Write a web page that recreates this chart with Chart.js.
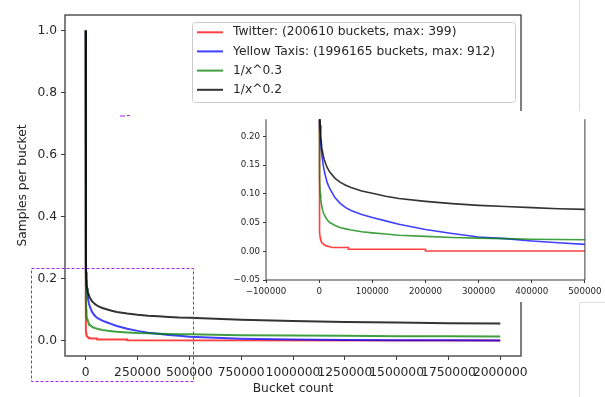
<!DOCTYPE html>
<html>
<head>
<meta charset="utf-8">
<script src="https://cdn.jsdelivr.net/npm/chart.js@4.4.0/dist/chart.umd.min.js"></script>
<style>
  html, body { margin: 0; padding: 0; background: #fff; }
  #wrap { position: relative; width: 605px; height: 397px; overflow: hidden; }
  #mainChart { position: absolute; left: 0; top: 0; }
  #insetChart { position: absolute; left: 205px; top: 111px; background: #fff; }
</style>
</head>
<body>
<div id="wrap">
  <canvas id="mainChart" width="605" height="397"></canvas>
  <canvas id="insetChart" width="400" height="191"></canvas>
</div>
<script>
// series names
const seriesNames = [
    'Twitter: (200610 buckets, max: 399)',
    'Yellow Taxis: (1996165 buckets, max: 912)',
    '1/x^0.3',
    '1/x^0.2'
];
const seriesColors = ['rgba(255,0,0,0.75)', 'rgba(0,0,255,0.75)', 'rgba(0,128,0,0.75)', 'rgba(0,0,0,0.8)'];

// bucket counts (x) shared by the smooth curves
const bucketX = [0, 500, 1000, 2000, 3000, 5000, 7500, 10000, 15000, 20000, 30000, 40000, 50000, 60000,
    80000, 100000, 125000, 150000, 200000, 250000, 300000, 350000, 400000, 450000, 500000,
    750000, 1000000, 1250000, 1500000, 1750000, 2000000];

// samples per bucket
const taxiY = [1.0, 0.23, 0.215, 0.195, 0.185, 0.168, 0.151, 0.138, 0.12, 0.109, 0.093, 0.083, 0.076, 0.071,
    0.064, 0.059, 0.053, 0.047, 0.038, 0.031, 0.025, 0.022, 0.018, 0.015, 0.012,
    0.006, 0.003, 0.002, 0.001, 0.0005, 0.0];
const pow03Y = [1.0, 0.16, 0.125, 0.10, 0.09, 0.078, 0.068, 0.063, 0.055, 0.050, 0.045, 0.041, 0.039, 0.037,
    0.034, 0.032, 0.030, 0.028, 0.026, 0.024, 0.023, 0.022, 0.021, 0.0205, 0.020,
    0.017, 0.016, 0.015, 0.014, 0.0135, 0.013];
const pow02Y = [1.0, 0.29, 0.25, 0.22, 0.20, 0.18, 0.168, 0.158, 0.146, 0.138, 0.127, 0.12, 0.115, 0.111,
    0.105, 0.101, 0.096, 0.092, 0.087, 0.083, 0.080, 0.078, 0.076, 0.074, 0.073,
    0.067, 0.063, 0.060, 0.058, 0.056, 0.055];

// twitter is stepped, so it has its own x values
const twitterX = [0, 500, 1000, 2000, 3000, 5000, 7500, 10000, 15000, 20000, 25000, 55000, 55000, 200000, 200000, 2000000];
const twitterY = [1.0, 0.05, 0.033, 0.024, 0.019, 0.015, 0.013, 0.011, 0.009, 0.008, 0.0065, 0.0065, 0.0035, 0.0035, 0.0005, 0.0];

// tick labels
const mainXTicks = [0, 250000, 500000, 750000, 1000000, 1250000, 1500000, 1750000, 2000000];
const mainYTicks = [0.0, 0.2, 0.4, 0.6, 0.8, 1.0];
const insetXTicks = [-100000, 0, 100000, 200000, 300000, 400000, 500000];
const insetYTicks = [-0.05, 0.0, 0.05, 0.10, 0.15, 0.20];

const FONT = 'DejaVu Sans';
const TEXT = '#262626';
const AXIS = '#3a3a3a';

function pts(xs, ys) {
    return xs.map((x, i) => ({ x: x, y: ys[i] }));
}

function buildDatasets(width) {
    const all = [pts(twitterX, twitterY), pts(bucketX, taxiY), pts(bucketX, pow03Y), pts(bucketX, pow02Y)];
    // black drawn on top, like the original plot order
    return all.map((d, i) => ({
        label: seriesNames[i],
        data: d,
        borderColor: seriesColors[i],
        backgroundColor: seriesColors[i],
        borderWidth: width,
        pointRadius: 0,
        showLine: true,
        tension: 0,
        order: 3 - i
    }));
}

function minus(s) {
    return s.replace('-', '\u2212');
}

// frame, legend and the dashed zoom box
const mainDecor = {
    id: 'mainDecor',
    afterDraw(chart) {
        const ctx = chart.ctx;
        const a = chart.chartArea;
        ctx.save();
        ctx.strokeStyle = AXIS;
        ctx.lineWidth = 1.3;
        ctx.strokeRect(a.left, a.top, a.right - a.left, a.bottom - a.top);

        // legend
        ctx.fillStyle = 'rgba(255,255,255,0.85)';
        ctx.strokeStyle = '#cccccc';
        ctx.lineWidth = 1;
        ctx.beginPath();
        ctx.roundRect(192.5, 22.5, 323, 80, 3);
        ctx.fill();
        ctx.stroke();
        const rows = [32.3, 51.4, 70.6, 89.8];
        ctx.font = '12.3px "' + FONT + '"';
        ctx.textBaseline = 'middle';
        rows.forEach((y, i) => {
            ctx.strokeStyle = seriesColors[i];
            ctx.lineWidth = 2;
            ctx.beginPath();
            ctx.moveTo(197, y);
            ctx.lineTo(223, y);
            ctx.stroke();
            ctx.fillStyle = TEXT;
            ctx.fillText(seriesNames[i], 233, y);
        });

        // dashed box marking the zoomed region
        ctx.strokeStyle = '#a020f0';
        ctx.lineWidth = 1;
        ctx.setLineDash([3, 2]);
        ctx.strokeRect(31.5, 268.5, 162, 113);
        ctx.setLineDash([]);
        ctx.beginPath();
        ctx.moveTo(120, 116);
        ctx.lineTo(125, 116);
        ctx.moveTo(127, 115.5);
        ctx.lineTo(130, 115.5);
        ctx.stroke();

        // faint page edge on the right
        ctx.strokeStyle = '#dddddd';
        ctx.beginPath();
        ctx.moveTo(579.5, 0);
        ctx.lineTo(579.5, 111.5);
        ctx.lineTo(605, 111.5);
        ctx.moveTo(605, 302.5);
        ctx.lineTo(579.5, 302.5);
        ctx.lineTo(579.5, 397);
        ctx.stroke();
        ctx.restore();
    }
};

const insetFrame = {
    id: 'insetFrame',
    afterDraw(chart) {
        const ctx = chart.ctx;
        const a = chart.chartArea;
        ctx.save();
        ctx.strokeStyle = AXIS;
        ctx.lineWidth = 1;
        ctx.beginPath();
        ctx.moveTo(a.left, a.top);
        ctx.lineTo(a.left, a.bottom);
        ctx.lineTo(a.right, a.bottom);
        ctx.lineTo(a.right, a.top);
        ctx.stroke();
        ctx.restore();
    }
};

function axis(opts) {
    return {
        type: 'linear',
        min: opts.min,
        max: opts.max,
        afterBuildTicks: s => { s.ticks = opts.ticks.map(v => ({ value: v })); },
        afterFit: opts.fit,
        border: { display: false },
        grid: { drawOnChartArea: false, drawTicks: true, tickLength: opts.tickLength, tickColor: AXIS, tickWidth: 1 },
        ticks: {
            autoSkip: false,
            maxRotation: 0,
            padding: opts.padding,
            color: TEXT,
            font: { family: FONT, size: opts.size },
            callback: opts.label
        },
        title: opts.title || { display: false }
    };
}

new Chart(document.getElementById('mainChart').getContext('2d'), {
    type: 'scatter',
    data: { datasets: buildDatasets(2) },
    options: {
        responsive: false,
        animation: false,
        layout: { padding: { left: 0, top: 15, right: 84, bottom: 0 } },
        plugins: { legend: { display: false }, tooltip: { enabled: false } },
        scales: {
            x: axis({
                min: -100000, max: 2100000, ticks: mainXTicks, tickLength: 4, padding: 5.5, size: 12.3,
                fit: s => { s.height = 41; },
                label: v => String(v),
                title: { display: true, text: 'Bucket count', color: TEXT, font: { family: FONT, size: 12.3 }, padding: { top: 0, bottom: 1.2 } }
            }),
            y: axis({
                min: -0.05, max: 1.05, ticks: mainYTicks, tickLength: 4, padding: 4, size: 12.3,
                fit: s => { s.width = 65; },
                label: v => v.toFixed(1),
                title: { display: true, text: 'Samples per bucket', color: TEXT, font: { family: FONT, size: 12.3 }, padding: { top: 15.6, bottom: 0 } }
            })
        }
    },
    plugins: [mainDecor]
});

new Chart(document.getElementById('insetChart').getContext('2d'), {
    type: 'scatter',
    data: { datasets: buildDatasets(1.6) },
    options: {
        responsive: false,
        animation: false,
        layout: { padding: { left: 0, top: 1, right: 18, bottom: 0 } },
        plugins: { legend: { display: false }, tooltip: { enabled: false } },
        scales: {
            x: axis({
                min: -100000, max: 500000, ticks: insetXTicks, tickLength: 3, padding: 3.5, size: 8.7,
                fit: s => { s.height = 22; },
                label: v => minus(String(v))
            }),
            y: axis({
                min: -0.05, max: 0.23, ticks: insetYTicks, tickLength: 3, padding: 3, size: 8.7,
                fit: s => { s.width = 61; },
                label: v => minus(v.toFixed(2))
            })
        }
    },
    plugins: [insetFrame]
});
</script>
</body>
</html>
